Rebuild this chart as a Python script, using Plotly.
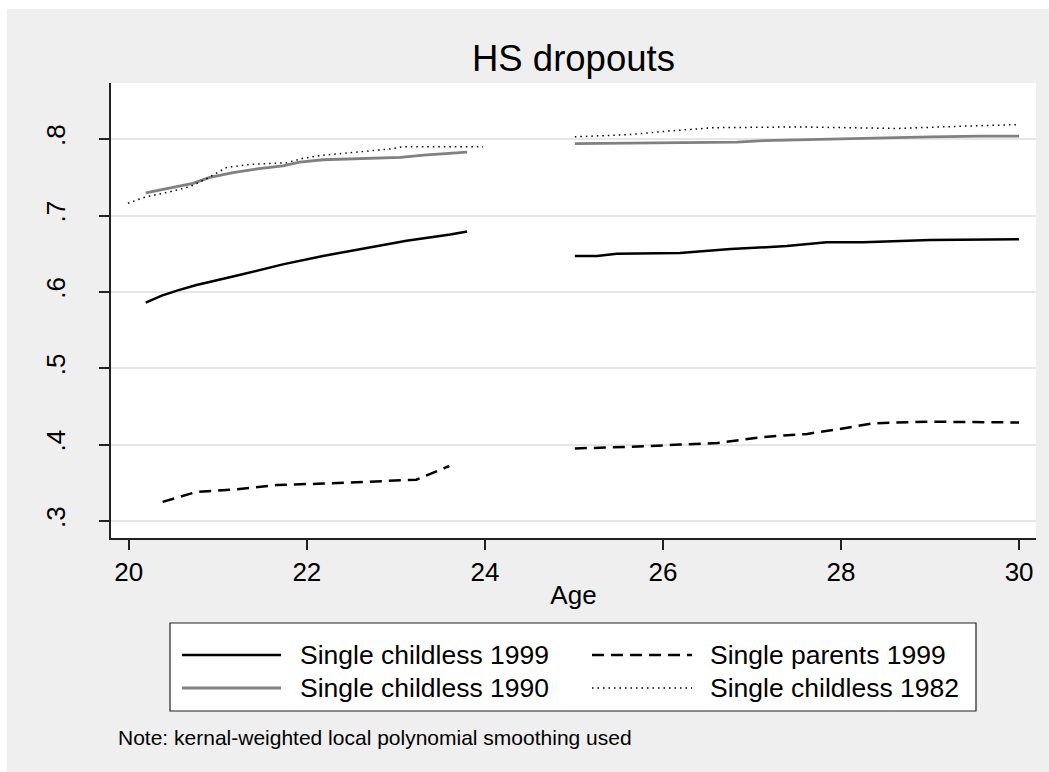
import plotly.graph_objects as go

# Age grid for each smoothed series (None marks the gap between the two age windows)
age_childless_1999 = [20.19, 20.37, 20.55, 20.76, 21.17, 21.44, 21.73, 22.18, 22.63, 22.86, 23.12, 23.61, 23.80,
                      None,
                      25.01, 25.26, 25.48, 26.19, 26.76, 27.39, 27.84, 28.25, 29.00, 30.00]
val_childless_1999 = [0.586, 0.595, 0.602, 0.609, 0.620, 0.628, 0.636, 0.647, 0.657, 0.662, 0.667, 0.675, 0.679,
                      None,
                      0.647, 0.647, 0.650, 0.651, 0.656, 0.660, 0.665, 0.665, 0.668, 0.669]

age_parents_1999 = [20.38, 20.76, 21.17, 21.66, 22.18, 22.75, 23.23, 23.60,
                    None,
                    25.01, 25.63, 26.19, 26.61, 27.13, 27.62, 28.07, 28.37, 29.00, 30.00]
val_parents_1999 = [0.325, 0.338, 0.341, 0.347, 0.349, 0.352, 0.354, 0.372,
                    None,
                    0.395, 0.397, 0.400, 0.402, 0.410, 0.414, 0.422, 0.428, 0.430, 0.429]

age_childless_1990 = [20.19, 20.42, 20.72, 20.91, 21.17, 21.44, 21.73, 21.92, 22.18, 23.05, 23.31, 23.80,
                      None,
                      25.01, 25.93, 26.83, 27.13, 28.07, 29.00, 29.57, 30.00]
val_childless_1990 = [0.7295, 0.735, 0.742, 0.750, 0.756, 0.761, 0.765, 0.770, 0.773, 0.776, 0.779, 0.783,
                      None,
                      0.794, 0.795, 0.796, 0.798, 0.801, 0.803, 0.804, 0.804]

age_childless_1982 = [19.99, 20.18, 20.46, 20.69, 20.87, 21.10, 21.36, 21.77, 21.96, 22.18, 22.93, 23.08, 23.98,
                      None,
                      25.01, 25.63, 26.00, 26.57, 27.51, 28.07, 28.63, 29.38, 29.98]
val_childless_1982 = [0.716, 0.724, 0.731, 0.738, 0.748, 0.763, 0.767, 0.769, 0.775, 0.779, 0.787, 0.790, 0.790,
                      None,
                      0.803, 0.806, 0.810, 0.815, 0.816, 0.815, 0.814, 0.817, 0.819]

series_names = ["Single childless 1999", "Single parents 1999",
                "Single childless 1990", "Single childless 1982"]

x_ticks = [20, 22, 24, 26, 28, 30]
y_ticks = [0.3, 0.4, 0.5, 0.6, 0.7, 0.8]
y_tick_text = [".3", ".4", ".5", ".6", ".7", ".8"]

FONT = "Liberation Sans, Arial, sans-serif"
BG = "#efefef"

styles = [
    dict(color="black", width=2.5, dash="solid"),
    dict(color="black", width=2.5, dash="12px,7px"),
    dict(color="#808080", width=2.8, dash="solid"),
    dict(color="black", width=1.5, dash="1.5px,4px"),
]
xs = [age_childless_1999, age_parents_1999, age_childless_1990, age_childless_1982]
ys = [val_childless_1999, val_parents_1999, val_childless_1990, val_childless_1982]

fig = go.Figure()
for x, y, name, st in zip(xs, ys, series_names, styles):
    fig.add_trace(go.Scatter(x=x, y=y, mode="lines", name=name, line=st,
                             connectgaps=False, showlegend=False))

W, H = 1049, 772
L, R, T, B = 111, 13, 83, 234
pw, ph = W - L - R, H - T - B


def px_x(p):
    return (p - L) / pw


def px_y(p):
    return (H - B - p) / ph


shapes = []
# thin white page margin along the top and left edges
shapes.append(dict(type="rect", xref="paper", yref="paper", layer="above",
                   x0=px_x(0), x1=px_x(W), y0=px_y(9), y1=px_y(0),
                   fillcolor="white", line=dict(width=0)))
shapes.append(dict(type="rect", xref="paper", yref="paper", layer="above",
                   x0=px_x(0), x1=px_x(7), y0=px_y(H), y1=px_y(0),
                   fillcolor="white", line=dict(width=0)))

# legend box
shapes.append(dict(type="rect", xref="paper", yref="paper",
                   x0=px_x(170), x1=px_x(976), y0=px_y(711), y1=px_y(623),
                   fillcolor="white", line=dict(color="#222222", width=1.2)))

annotations = []
legend_pos = [(182, 281, 298, 655), (592, 692, 708, 655),
              (182, 281, 298, 688), (592, 692, 708, 688)]
for name, st, (lx0, lx1, tx, ry) in zip(series_names, styles, legend_pos):
    shapes.append(dict(type="line", xref="paper", yref="paper",
                       x0=px_x(lx0), x1=px_x(lx1), y0=px_y(ry), y1=px_y(ry),
                       line=dict(color=st["color"], width=st["width"], dash=st["dash"])))
    annotations.append(dict(text=name, xref="paper", yref="paper",
                            x=px_x(tx), y=px_y(ry), xanchor="left", yanchor="middle",
                            showarrow=False, font=dict(size=26.5, color="black", family=FONT)))

annotations.append(dict(text="Note: kernal-weighted local polynomial smoothing used",
                        xref="paper", yref="paper", x=px_x(116), y=px_y(737),
                        xanchor="left", yanchor="middle", showarrow=False,
                        font=dict(size=21, color="black", family=FONT)))

annotations.append(dict(text="HS dropouts", xref="paper", yref="paper",
                        x=0.5, y=px_y(59), xanchor="center", yanchor="middle",
                        showarrow=False, font=dict(size=36.5, color="black", family=FONT)))

fig.update_layout(
    width=W, height=H,
    margin=dict(l=L, r=R, t=T, b=B, pad=0),
    paper_bgcolor=BG, plot_bgcolor="white",
    font=dict(family=FONT, color="black"),
    shapes=shapes, annotations=annotations,
    showlegend=False,
)

fig.update_xaxes(
    range=[19.8, 30.19], tickvals=x_ticks, ticks="outside", ticklen=10,
    tickwidth=1.5, tickcolor="#222222", showline=True, linecolor="#222222",
    linewidth=1.5, showgrid=False, zeroline=False,
    tickfont=dict(size=26, color="black", family=FONT),
    title=dict(text="Age", font=dict(size=26, color="black", family=FONT), standoff=0),
)
fig.update_yaxes(
    range=[0.2777, 0.8735], tickvals=y_ticks, ticktext=y_tick_text, tickangle=-90,
    ticks="outside", ticklen=10, tickwidth=1.5, tickcolor="#222222",
    showline=True, linecolor="#222222", linewidth=1.5, ticklabelstandoff=24,
    showgrid=True, gridcolor="#e6e6e6", gridwidth=2, zeroline=False,
    tickfont=dict(size=26, color="black", family=FONT),
)

fig.write_html("out.html")
